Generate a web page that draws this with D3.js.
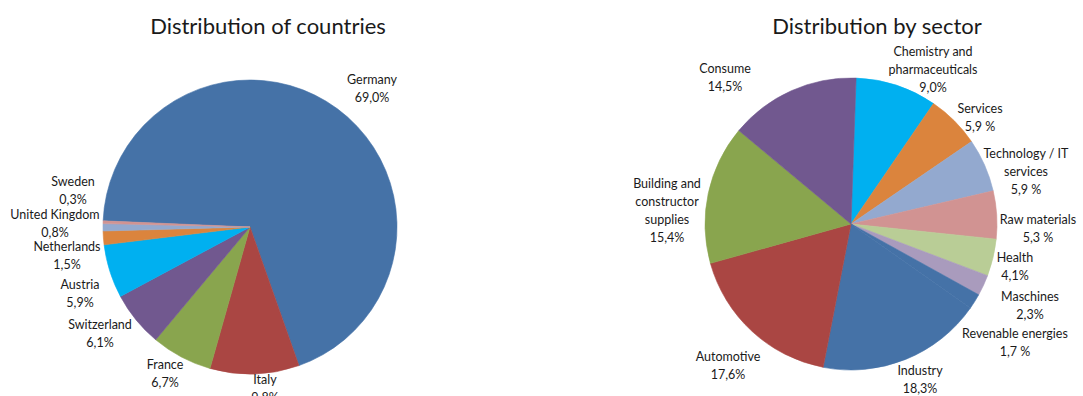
<!DOCTYPE html>
<html>
<head>
<meta charset="utf-8">
<script src="https://cdn.jsdelivr.net/npm/d3@7/dist/d3.min.js"></script>
<style>
  body { margin: 0; background: #fff; }
  text { font-family: Lato, "Open Sans", sans-serif; fill: #1a1a1a; }
</style>
</head>
<body>
<div id="chart"></div>
<script>
// data
const countries = ["Germany", "Italy", "France", "Switzerland", "Austria", "Netherlands", "United Kingdom", "Sweden"];
const countryValues = [69.0, 9.8, 6.7, 6.1, 5.9, 1.5, 0.8, 0.3];
const countryPct = ["69,0%", "9,8%", "6,7%", "6,1%", "5,9%", "1,5%", "0,8%", "0,3%"];

const sectors = [["Chemistry and", "pharmaceuticals"], ["Services"], ["Technology / IT", "services"], ["Raw materials"],
  ["Health"], ["Maschines"], ["Revenable energies"], ["Industry"], ["Automotive"],
  ["Building and", "constructor", "supplies"], ["Consume"]];
const sectorValues = [9.0, 5.9, 5.9, 5.3, 4.1, 2.3, 1.7, 18.3, 17.6, 15.4, 14.5];
const sectorPct = ["9,0%", "5,9 %", "5,9 %", "5,3 %", "4,1%", "2,3%", "1,7 %", "18,3%", "17,6%", "15,4%", "14,5%"];

// layout
const W = 1083, H = 396;
const countryColors = ["#4572A7", "#AA4643", "#89A54E", "#71588F", "#00B0F0", "#DB843D", "#93A9CF", "#D19392"];
const sectorColors = ["#00B0F0", "#DB843D", "#93A9CF", "#D19392", "#B9CD96", "#A99BBD", "#4572A7",
  "#4572A7", "#AA4643", "#89A54E", "#71588F"];
// label anchor (center of first line) for each slice
const countryLabelPos = [[372, 80], [265, 380], [165, 365], [100, 325], [80, 285], [67, 247], [55, 215], [73, 182]];
const sectorLabelPos = [[933, 52], [980, 109], [1026, 154], [1038, 220], [1015, 258], [1030, 297], [1015, 334],
  [920, 371], [728, 357], [667, 184], [725, 69]];
const lineH = 18;

const svg = d3.select("#chart").append("svg")
  .attr("width", W)
  .attr("height", H);

function drawPie(cfg) {
  const pie = d3.pie().sort(null)
    .startAngle(cfg.start * Math.PI / 180)
    .endAngle(cfg.start * Math.PI / 180 + 2 * Math.PI);
  const arc = d3.arc().innerRadius(0).outerRadius(cfg.r);

  const g = svg.append("g")
    .attr("transform", `translate(${cfg.cx},${cfg.cy})`);

  // same-colour hairline stroke hides anti-aliasing seams between slices
  g.selectAll("path")
    .data(pie(cfg.values))
    .join("path")
    .attr("d", arc)
    .attr("fill", (d, i) => cfg.colors[i])
    .attr("stroke", (d, i) => cfg.colors[i])
    .attr("stroke-width", 0.6)
    .attr("stroke-linejoin", "round");

  // title
  svg.append("text")
    .attr("x", cfg.titleX)
    .attr("y", 34)
    .attr("text-anchor", "middle")
    .attr("font-size", 22)
    .text(cfg.title);

  // data labels
  cfg.names.forEach((name, i) => {
    const lines = [].concat(name, cfg.pct[i]);
    const t = svg.append("text")
      .attr("text-anchor", "middle")
      .attr("font-size", 12.5);
    lines.forEach((l, j) => {
      t.append("tspan")
        .attr("x", cfg.labelPos[i][0])
        .attr("y", cfg.labelPos[i][1] + 4 + j * lineH)
        .text(l);
    });
  });
}

drawPie({
  cx: 250, cy: 227, r: 147, start: -87.6,
  values: countryValues, names: countries, pct: countryPct,
  colors: countryColors, labelPos: countryLabelPos,
  title: "Distribution of countries", titleX: 268
});

drawPie({
  cx: 851, cy: 224, r: 146, start: 2,
  values: sectorValues, names: sectors, pct: sectorPct,
  colors: sectorColors, labelPos: sectorLabelPos,
  title: "Distribution by sector", titleX: 877
});
</script>
</body>
</html>
